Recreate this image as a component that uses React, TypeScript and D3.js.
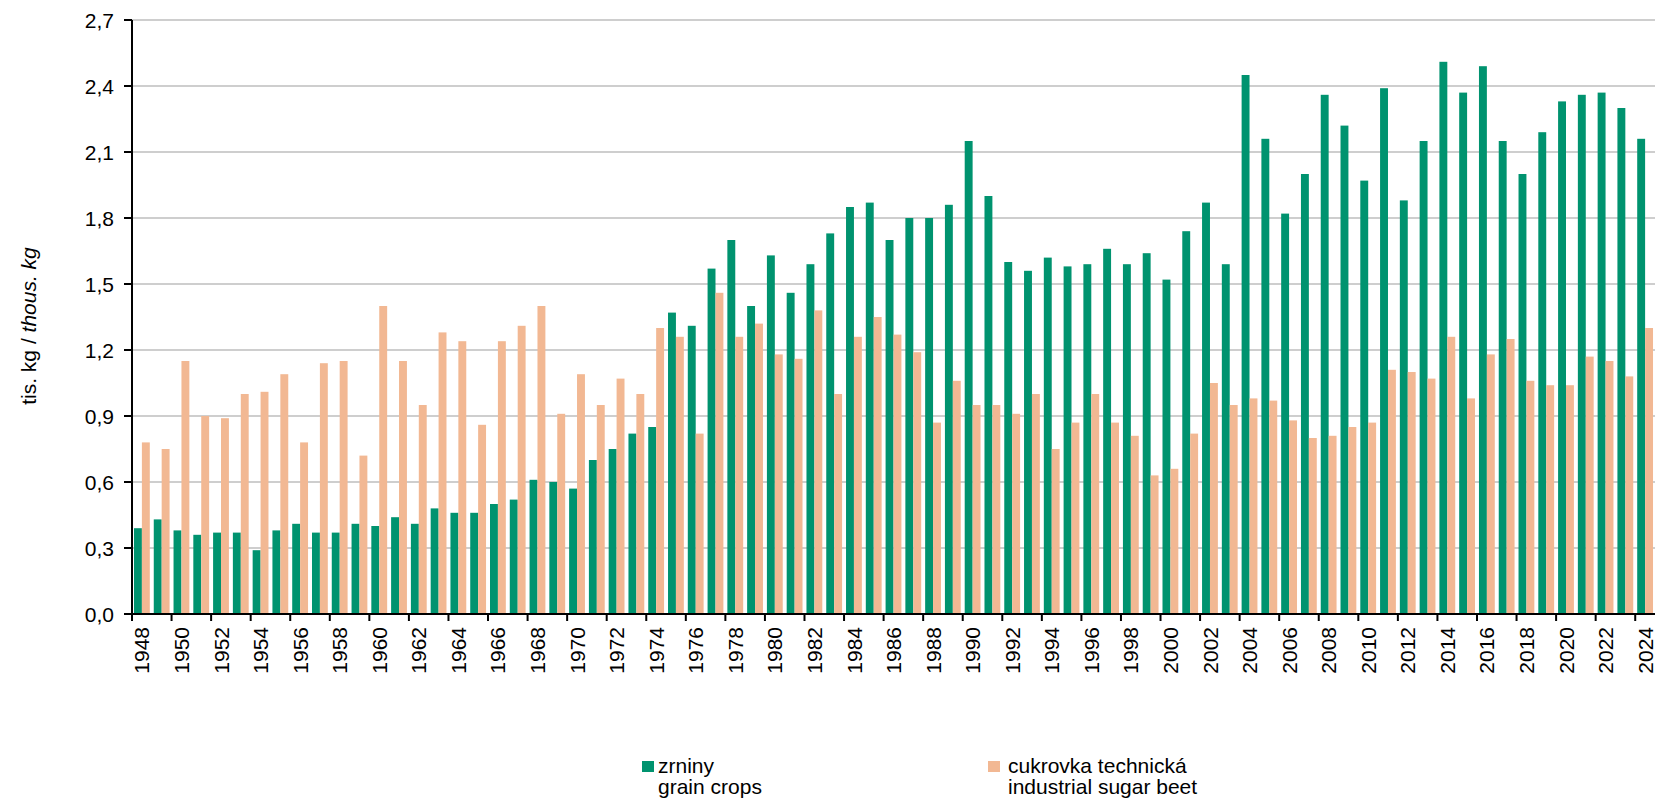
import React from "react";
import * as d3 from "d3";

const years: number[] = [
  1948, 1949, 1950, 1951, 1952, 1953, 1954, 1955, 1956, 1957, 1958, 1959,
  1960, 1961, 1962, 1963, 1964, 1965, 1966, 1967, 1968, 1969, 1970, 1971,
  1972, 1973, 1974, 1975, 1976, 1977, 1978, 1979, 1980, 1981, 1982, 1983,
  1984, 1985, 1986, 1987, 1988, 1989, 1990, 1991, 1992, 1993, 1994, 1995,
  1996, 1997, 1998, 1999, 2000, 2001, 2002, 2003, 2004, 2005, 2006, 2007,
  2008, 2009, 2010, 2011, 2012, 2013, 2014, 2015, 2016, 2017, 2018, 2019,
  2020, 2021, 2022, 2023, 2024,
];

const grainCrops: number[] = [
  0.39, 0.43, 0.38, 0.36, 0.37, 0.37, 0.29, 0.38, 0.41, 0.37, 0.37, 0.41,
  0.40, 0.44, 0.41, 0.48, 0.46, 0.46, 0.50, 0.52, 0.61, 0.60, 0.57, 0.70,
  0.75, 0.82, 0.85, 1.37, 1.31, 1.57, 1.70, 1.40, 1.63, 1.46, 1.59, 1.73,
  1.85, 1.87, 1.70, 1.80, 1.80, 1.86, 2.15, 1.90, 1.60, 1.56, 1.62, 1.58,
  1.59, 1.66, 1.59, 1.64, 1.52, 1.74, 1.87, 1.59, 2.45, 2.16, 1.82, 2.00,
  2.36, 2.22, 1.97, 2.39, 1.88, 2.15, 2.51, 2.37, 2.49, 2.15, 2.00, 2.19,
  2.33, 2.36, 2.37, 2.30, 2.16,
];

const sugarBeet: number[] = [
  0.78, 0.75, 1.15, 0.90, 0.89, 1.00, 1.01, 1.09, 0.78, 1.14, 1.15, 0.72,
  1.40, 1.15, 0.95, 1.28, 1.24, 0.86, 1.24, 1.31, 1.40, 0.91, 1.09, 0.95,
  1.07, 1.00, 1.30, 1.26, 0.82, 1.46, 1.26, 1.32, 1.18, 1.16, 1.38, 1.00,
  1.26, 1.35, 1.27, 1.19, 0.87, 1.06, 0.95, 0.95, 0.91, 1.00, 0.75, 0.87,
  1.00, 0.87, 0.81, 0.63, 0.66, 0.82, 1.05, 0.95, 0.98, 0.97, 0.88, 0.80,
  0.81, 0.85, 0.87, 1.11, 1.10, 1.07, 1.26, 0.98, 1.18, 1.25, 1.06, 1.04,
  1.04, 1.17, 1.15, 1.08, 1.30,
];

const yTicks: number[] = [0, 0.3, 0.6, 0.9, 1.2, 1.5, 1.8, 2.1, 2.4, 2.7];

const seriesKeys = ["grain", "beet"];
const seriesColors = ["#00936F", "#F2B893"];
const legendLines = [
  ["zrniny", "grain crops"],
  ["cukrovka technická", "industrial sugar beet"],
];

const W = 1658;
const H = 799;
const left = 132;
const right = 1655;
const top = 20;
const bottom = 614;
const FONT = "'Liberation Sans', Arial, sans-serif";
const FS = 21;

export default function App() {
  const x = d3
    .scaleBand<number>()
    .domain(years)
    .range([left, right])
    .paddingInner(0)
    .paddingOuter(0);
  const xs = d3
    .scaleBand<string>()
    .domain(seriesKeys)
    .range([0, x.bandwidth()])
    .paddingInner(0)
    .paddingOuter(0.25);
  const y = d3.scaleLinear().domain([0, 2.7]).range([bottom, top]);
  const fmt = (v: number) => d3.format(".1f")(v).replace(".", ",");

  const series = [grainCrops, sugarBeet];
  const legendX = [642, 988];
  const legendTextX = [658, 1008];

  return (
    <svg
      width={W}
      height={H}
      style={{ position: "absolute", left: 0, top: 0, background: "#fff" }}
      fontFamily={FONT}
    >
      {/* gridlines */}
      {yTicks.map((t) =>
        t === 0 ? null : (
          <line
            key={"g" + t}
            x1={left}
            x2={right}
            y1={y(t)}
            y2={y(t)}
            stroke="#BEBEBE"
            strokeWidth={1.6}
          />
        )
      )}
      {/* bars */}
      {years.map((yr, i) =>
        series.map((s, k) => (
          <rect
            key={yr + "-" + k}
            x={(x(yr) as number) + (xs(seriesKeys[k]) as number)}
            y={y(s[i])}
            width={xs.bandwidth()}
            height={bottom - y(s[i])}
            fill={seriesColors[k]}
          />
        ))
      )}
      {/* y axis */}
      <line x1={left} x2={left} y1={top} y2={bottom} stroke="#000" strokeWidth={2} />
      {yTicks.map((t) => (
        <g key={"yt" + t}>
          <line x1={left - 8} x2={left} y1={y(t)} y2={y(t)} stroke="#000" strokeWidth={2} />
          <text
            x={114}
            y={y(t)}
            dy="0.36em"
            textAnchor="end"
            fontSize={FS}
            fill="#000"
          >
            {fmt(t)}
          </text>
        </g>
      ))}
      {/* x axis */}
      <line x1={left} x2={right} y1={bottom} y2={bottom} stroke="#000" strokeWidth={2} />
      {years.map((yr, i) =>
        i % 2 === 0 ? (
          <g key={"xt" + yr}>
            <line
              x1={x(yr) as number}
              x2={x(yr) as number}
              y1={bottom}
              y2={bottom + 7}
              stroke="#000"
              strokeWidth={2}
            />
            <text
              transform={`translate(${(x(yr) as number) + x.bandwidth() / 2},627) rotate(-90)`}
              dy="0.36em"
              textAnchor="end"
              fontSize={FS}
              fill="#000"
            >
              {yr}
            </text>
          </g>
        ) : null
      )}
      {/* y title */}
      <text
        transform={`translate(36,${(top + bottom) / 2 + 9}) rotate(-90)`}
        textAnchor="middle"
        fontSize={FS}
        fill="#000"
      >
        tis. kg / <tspan fontStyle="italic">thous. kg</tspan>
      </text>
      {/* legend */}
      {legendLines.map((lines, k) => (
        <g key={"lg" + k}>
          <rect x={legendX[k]} y={761} width={12} height={11} fill={seriesColors[k]} />
          <text x={legendTextX[k]} y={773} fontSize={FS} fill="#000">
            {lines[0]}
          </text>
          <text x={legendTextX[k]} y={794} fontSize={FS} fill="#000">
            {lines[1]}
          </text>
        </g>
      ))}
    </svg>
  );
}
